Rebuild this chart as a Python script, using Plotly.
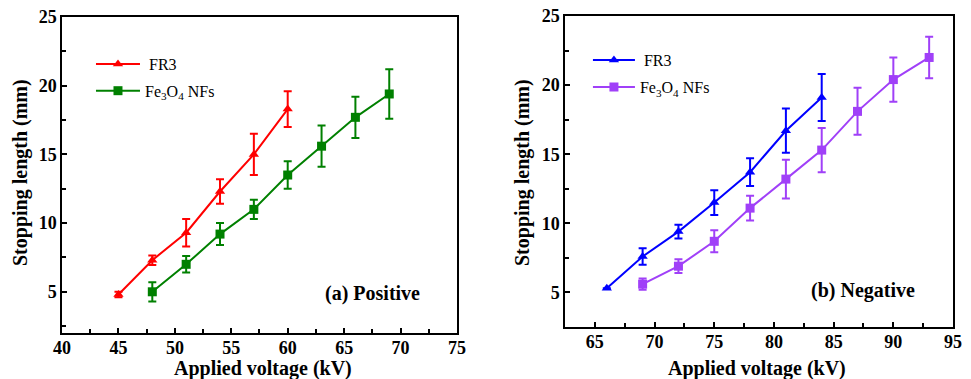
import plotly.graph_objects as go

# ---- data ----
pos_fr3_v = [45, 48, 51, 54, 57, 60]
pos_fr3_len = [4.8, 7.3, 9.3, 12.3, 15.0, 18.3]
pos_fr3_err = [0.2, 0.35, 1.0, 0.9, 1.5, 1.3]

pos_fe_v = [48, 51, 54, 57, 60, 63, 66, 69]
pos_fe_len = [5.0, 7.0, 9.2, 11.0, 13.5, 15.6, 17.7, 19.4]
pos_fe_err = [0.7, 0.6, 0.8, 0.7, 1.0, 1.5, 1.5, 1.8]

neg_fr3_v = [66, 69, 72, 75, 78, 81, 84]
neg_fr3_len = [5.3, 7.6, 9.4, 11.5, 13.7, 16.7, 19.1]
neg_fr3_err = [0.0, 0.6, 0.5, 0.9, 1.0, 1.6, 1.7]

neg_fe_v = [69, 72, 75, 78, 81, 84, 87, 90, 93]
neg_fe_len = [5.6, 6.9, 8.7, 11.1, 13.2, 15.3, 18.1, 20.4, 22.0]
neg_fe_err = [0.4, 0.5, 0.8, 0.9, 1.4, 1.6, 1.7, 1.6, 1.5]

series_names = ["\u00a0FR3", "Fe<sub>3</sub>O<sub>4</sub> NFs"]
panel_labels = ["(a) Positive", "(b) Negative"]
x_title = "Applied voltage (kV)"
y_title = "Stopping length (mm)"

RED, GREEN, BLUE, PURPLE = "#ff0000", "#008000", "#0000ff", "#a040f8"
FONT = "Liberation Serif"

fig = go.Figure()

def add(x, y, e, color, symbol, name, xa, ya, leg, grp):
    fig.add_trace(go.Scatter(
        x=x, y=y, mode="lines+markers", name=name,
        xaxis=xa, yaxis=ya, legend=leg, legendgroup=grp,
        line=dict(color=color, width=2),
        marker=dict(color=color, symbol=symbol, size=9),
        error_y=dict(type="data", array=e, visible=True, color=color,
                     thickness=2, width=4),
    ))

add(pos_fr3_v, pos_fr3_len, pos_fr3_err, RED, "triangle-up", series_names[0], "x", "y", "legend", "a1")
add(pos_fe_v, pos_fe_len, pos_fe_err, GREEN, "square", series_names[1], "x", "y", "legend", "a2")
add(neg_fr3_v, neg_fr3_len, neg_fr3_err, BLUE, "triangle-up", series_names[0], "x2", "y2", "legend2", "b1")
add(neg_fe_v, neg_fe_len, neg_fe_err, PURPLE, "square", series_names[1], "x2", "y2", "legend2", "b2")

tickfont = dict(family=FONT, size=18, color="black", weight="bold")
titlefont = dict(family=FONT, size=20, color="black", weight="bold")

def xax(domain, rng, anchor):
    return dict(domain=domain, range=rng, anchor=anchor, dtick=5, tick0=40,
                ticks="inside", ticklen=5, tickwidth=1.5, tickcolor="black",
                showline=True, linecolor="black", linewidth=1.5, mirror=True,
                showgrid=False, zeroline=False, tickfont=tickfont, automargin=False,
                ticklabelstandoff=-2,
                minor=dict(dtick=2.5, ticks="inside", ticklen=4, tickwidth=1.5, tickcolor="black", showgrid=False))

def yax(domain, rng, anchor):
    return dict(domain=domain, range=rng, anchor=anchor, dtick=5, tick0=0,
                ticks="inside", ticklen=5, tickwidth=1.5, tickcolor="black",
                showline=True, linecolor="black", linewidth=1.5, mirror=True,
                showgrid=False, zeroline=False, tickfont=tickfont, automargin=False,
                minor=dict(dtick=2.5, ticks="inside", ticklen=4, tickwidth=1.5, tickcolor="black", showgrid=False))

W, H = 971, 379
legfont = dict(family=FONT, size=16, color="black")
fig.update_layout(
    width=W, height=H,
    margin=dict(l=0, r=0, t=0, b=0),
    paper_bgcolor="white", plot_bgcolor="white",
    font=dict(family=FONT, color="black"),
    xaxis=xax([0.0639, 0.4706], [40, 75], "y"),
    yaxis=yax([0.1214, 0.955], [2, 25], "x"),
    xaxis2=xax([0.5819, 0.9815], [62.5, 95], "y2"),
    yaxis2=yax([0.1372, 0.9578], [2.5, 25], "x2"),
    legend=dict(x=0.0937, y=0.876, xanchor="left", yanchor="top", bgcolor="rgba(0,0,0,0)",
                font=legfont, tracegroupgap=3, itemwidth=44),
    legend2=dict(x=0.6055, y=0.886, xanchor="left", yanchor="top", bgcolor="rgba(0,0,0,0)",
                 font=legfont, tracegroupgap=3, itemwidth=42),
    showlegend=True,
)

def note(text, cx, cy, font, angle=0):
    fig.add_annotation(text=text, xref="paper", yref="paper", x=cx / W, y=1 - cy / H,
                       xanchor="center", yanchor="middle", showarrow=False,
                       textangle=angle, font=font)

# axis titles
note(x_title, 263, 368, titlefont)
note(x_title, 757, 368, titlefont)
note(y_title, 20, 173, titlefont, -90)
note(y_title, 522, 173, titlefont, -90)

labelfont = dict(family=FONT, size=20, color="black", weight="bold")
note(panel_labels[0], 372, 293, labelfont)
note(panel_labels[1], 863, 290, labelfont)

fig.write_html("out.html", config={"displayModeBar": False},
               post_script="document.body.style.margin='0px';")
